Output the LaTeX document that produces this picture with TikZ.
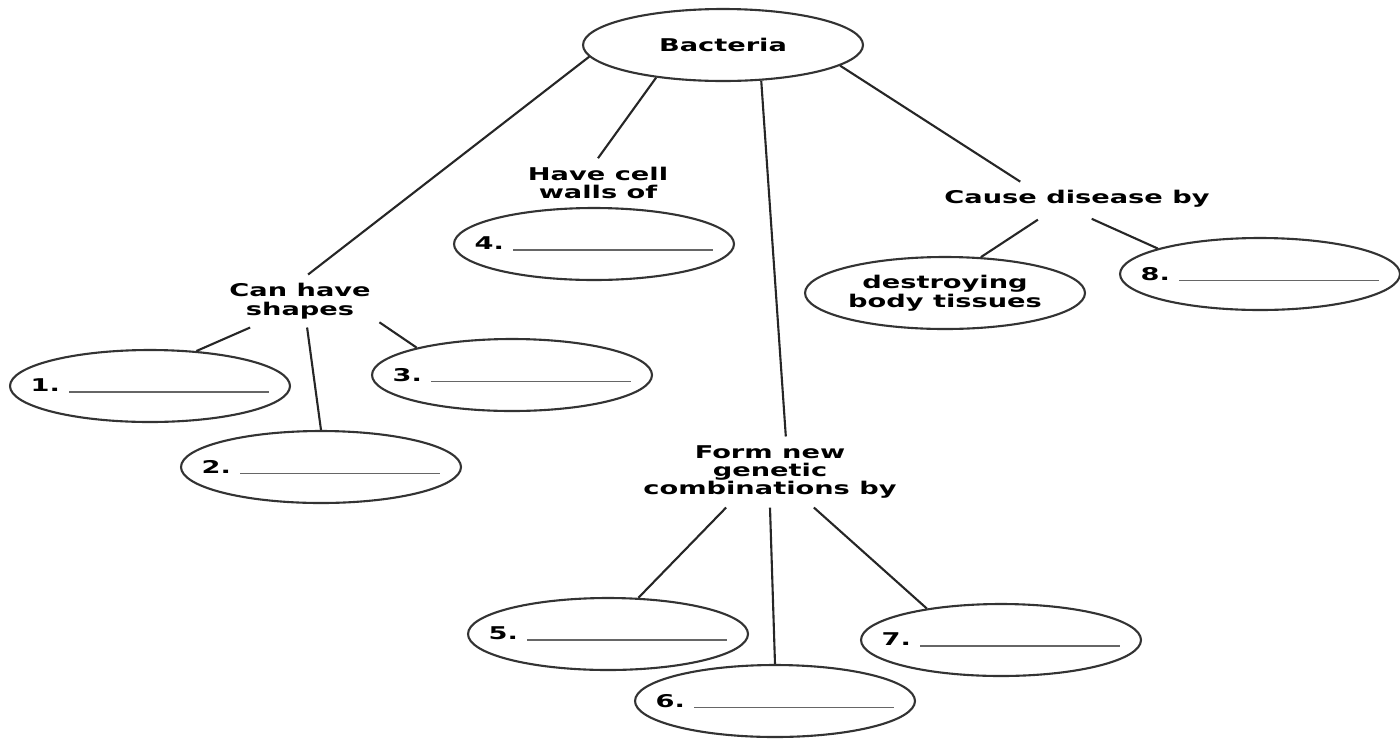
\documentclass[tikz,border=0pt]{standalone}
\usepackage{fontspec}
\newfontfamily\mapfont[FakeStretch=1.55]{DejaVu Sans}
\usetikzlibrary{shapes.geometric}
\newcommand{\blankline}{\textcolor{black!60}{\rule[-0.5pt]{4cm}{0.8pt}}}
\tikzset{
  concept/.style={ellipse,draw=black!80,line width=1.2pt,minimum width=5.6cm,minimum height=1.44cm,inner sep=0pt,align=center},
  phrase/.style={align=center,inner sep=2pt,outer sep=3pt},
  link/.style={line width=1.2pt,black!85},
}
\begin{document}
\begin{tikzpicture}[x=0.02cm,y=-0.02cm,font=\mapfont\bfseries\fontsize{10}{10.5}\selectfont]
  \useasboundingbox (0,0) rectangle (1400,738);

  \node[concept] (bacteria) at (723,45) {Bacteria};
  \node[phrase] (shapes) at (300,301) {Can have\\shapes};
  \node[phrase] (walls) at (598,183) {Have cell\\walls of};
  \node[phrase] (disease) at (1077,199) {Cause disease by};
  \node[phrase] (genetic) at (770,472) {Form new\\genetic\\combinations by};
  \node[concept] (tissues) at (945,293) {destroying\\body tissues};

  \foreach \n/\x/\y in {1/150/386,2/321/467,3/512/375,4/594/244,5/608/634,6/775/701,7/1001/640,8/1260/274}
    \node[concept] (e\n) at (\x,\y) {\makebox[0pt]{\n.~\blankline}};

  \draw[link] (bacteria.185) -- (shapes.73);
  \draw[link] (bacteria.206) -- (walls.north);
  \draw[link] (bacteria.317) -- (genetic.66);
  \draw[link] (bacteria.350) -- (disease.163);

  \draw[link] (shapes.208) -- (e1.37);
  \draw[link] (shapes.285) -- (e2.north);
  \draw[link] (shapes.345) -- (e3.164);

  \draw[link,shorten <=0.12cm] (disease.207) -- (tissues.45);
  \draw[link,shorten <=0.12cm] (disease.298) -- (e8.166);

  \draw[link] (genetic.219) -- (e5.50);
  \draw[link] (genetic.south) -- (e6.north);
  \draw[link] (genetic.321) -- (e7.157);
\end{tikzpicture}
\end{document}
